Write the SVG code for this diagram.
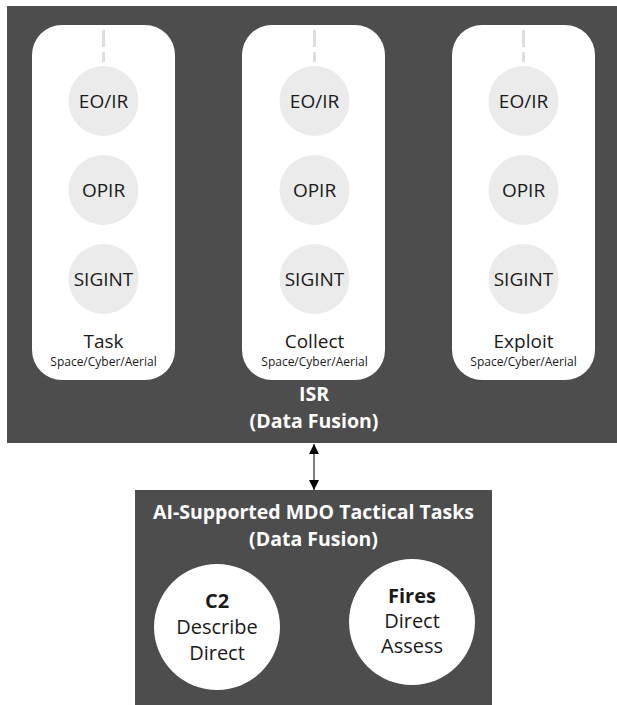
<svg xmlns="http://www.w3.org/2000/svg" width="617" height="705" viewBox="0 0 617 705">
<defs>
<style>
.dark{fill:#4d4d4d}
.col{fill:#ffffff}
.sensor{fill:#ebebeb}
.dash{stroke:#dedede;stroke-width:3;stroke-dasharray:17 5;fill:none}
.t{font-family:"Open Sans","Liberation Sans",sans-serif;text-anchor:middle;fill:#1a1a1a}
.s{font-size:19px}
.lab{font-size:19px}
.sub{font-size:12px}
.w{fill:#ffffff;font-weight:bold;font-size:19.5px}
.big{font-size:20px}
.b{font-weight:bold}
</style>
<marker id="ah" viewBox="0 0 10 10" refX="10" refY="5" markerWidth="10" markerHeight="10" markerUnits="userSpaceOnUse" orient="auto-start-reverse">
<path d="M0,0 L10,5 L0,10 z" fill="#000"/>
</marker>
</defs>
<rect width="617" height="705" fill="#ffffff"/>
<g id="isr">
<rect class="dark" x="7" y="6" width="610" height="437"/>
<text class="t w" x="314" y="401">ISR</text>
<text class="t w" x="314" y="428">(Data Fusion)</text>
</g>
<g id="task">
<rect class="col" x="32" y="25" width="143" height="355" rx="30" ry="30"/>
<line class="dash" x1="103.5" y1="30" x2="103.5" y2="62"/>
<circle class="sensor" cx="103.5" cy="101" r="35"/>
<circle class="sensor" cx="103.5" cy="190" r="35"/>
<circle class="sensor" cx="103.5" cy="279" r="35"/>
<text class="t s" x="103.5" y="108">EO/IR</text>
<text class="t s" x="103.5" y="197">OPIR</text>
<text class="t s" x="103.5" y="286">SIGINT</text>
<text class="t lab" x="103.5" y="348">Task</text>
<text class="t sub" x="103.5" y="366">Space/Cyber/Aerial</text>
</g>
<g id="collect">
<rect class="col" x="242" y="25" width="143" height="355" rx="30" ry="30"/>
<line class="dash" x1="314.5" y1="30" x2="314.5" y2="62"/>
<circle class="sensor" cx="314.5" cy="101" r="35"/>
<circle class="sensor" cx="314.5" cy="190" r="35"/>
<circle class="sensor" cx="314.5" cy="279" r="35"/>
<text class="t s" x="314.5" y="108">EO/IR</text>
<text class="t s" x="314.5" y="197">OPIR</text>
<text class="t s" x="314.5" y="286">SIGINT</text>
<text class="t lab" x="314.5" y="348">Collect</text>
<text class="t sub" x="314.5" y="366">Space/Cyber/Aerial</text>
</g>
<g id="exploit">
<rect class="col" x="452" y="25" width="143" height="355" rx="30" ry="30"/>
<line class="dash" x1="523.5" y1="30" x2="523.5" y2="62"/>
<circle class="sensor" cx="523.5" cy="101" r="35"/>
<circle class="sensor" cx="523.5" cy="190" r="35"/>
<circle class="sensor" cx="523.5" cy="279" r="35"/>
<text class="t s" x="523.5" y="108">EO/IR</text>
<text class="t s" x="523.5" y="197">OPIR</text>
<text class="t s" x="523.5" y="286">SIGINT</text>
<text class="t lab" x="523.5" y="348">Exploit</text>
<text class="t sub" x="523.5" y="366">Space/Cyber/Aerial</text>
</g>
<g id="mdo">
<rect class="dark" x="135" y="490" width="357" height="215"/>
<text class="t w" x="313.5" y="519">AI-Supported MDO Tactical Tasks</text>
<text class="t w" x="313.5" y="546">(Data Fusion)</text>
</g>
<g id="c2">
<circle cx="217" cy="627" r="63" fill="#ffffff"/>
<text class="t big b" x="217" y="608">C2</text>
<text class="t big" x="217" y="634">Describe</text>
<text class="t big" x="217" y="660">Direct</text>
</g>
<g id="fires">
<circle cx="412" cy="622" r="63" fill="#ffffff"/>
<text class="t big b" x="412" y="603">Fires</text>
<text class="t big" x="412" y="628">Direct</text>
<text class="t big" x="412" y="653">Assess</text>
</g>
<g id="connectors">
<line x1="314" y1="444" x2="314" y2="490" stroke="#555" stroke-width="1.5" marker-start="url(#ah)" marker-end="url(#ah)"/>
</g>
</svg>
